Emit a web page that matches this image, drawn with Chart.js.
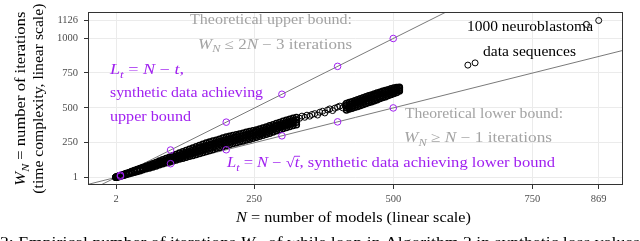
<!DOCTYPE html>
<html><head><meta charset="utf-8">
<script src="https://cdn.jsdelivr.net/npm/chart.js@4/dist/chart.umd.min.js"></script>
<style>html,body{margin:0;padding:0;background:#fff;overflow:hidden}canvas{display:block}</style>
</head><body>
<canvas id="c" width="640" height="241" style="width:640px;height:241px"></canvas>
<script>
// ---- data ----
const xTicks = [2, 250, 500, 750, 869];
const yTicks = [1, 250, 500, 750, 1000, 1126];
const synthN = [10, 100, 200, 300, 400, 500];
const synthUpperW = [17, 197, 397, 597, 797, 997];
const synthLowerW = [9, 99, 199, 299, 399, 499];
const boundN = [-60, 940];
const upperBoundW = [-123, 1877];
const lowerBoundW = [-61, 939];
// neuroblastoma: dense lower part of the band (N, four W rows per N)
const bandN  = [2,5,8,12,16,20,25,30,35,40,45,50,56,62,68,74,80,86,92,98,104,110,116,122,128,134,140,146,152,158,164,170,176,182,188,194,200,206,212,218,224,230,236,242,248,254,260,266,272,278,284,290,296,302,308,314,320,326];
const bandW1 = [1,5,8,13,17,22,27,33,38,44,49,55,62,69,76,83,91,98,105,112,119,126,132,138,145,152,158,165,172,179,186,194,201,209,216,223,230,237,244,250,256,262,269,275,282,289,296,303,311,318,327,335,343,351,358,365,373,379];
const bandW2 = [1,5,9,14,19,24,30,36,42,48,54,61,68,76,83,91,99,107,115,123,131,139,146,154,161,168,176,183,191,198,206,214,221,229,236,243,250,257,263,269,275,281,287,294,300,306,313,320,328,336,344,352,360,369,376,383,390,396];
const bandW3 = [2,6,10,15,20,26,32,39,46,53,59,66,74,83,91,99,108,117,125,134,143,152,160,169,177,185,194,202,211,219,227,234,241,249,256,263,270,276,282,288,294,300,306,312,318,324,330,337,345,353,361,369,377,386,393,400,407,413];
const bandW4 = [2,7,11,17,22,28,35,43,50,57,64,72,81,90,99,108,118,127,136,146,156,165,175,184,194,203,212,221,230,239,247,254,261,268,275,283,290,296,301,306,312,318,324,330,336,341,347,355,363,371,379,387,395,404,411,418,425,431];
// neuroblastoma: sparse middle part
const sparseN = [332,336,341,345,350,354,359,364,368,373,377,382,386,391,395,400,404,409,413];
const sparseW = [425,440,432,447,440,452,458,448,468,475,463,484,492,480,497,505,512,500,520];
// neuroblastoma: dense upper end of the band
const endN  = [416,421,426,431,436,441,446,451,456,461,466,471,476,481,486,491,496,501,506,511];
const endW1 = [485,491,497,503,510,516,523,530,537,544,551,558,566,573,580,588,595,602,610,620];
const endW2 = [500,506,512,519,526,533,540,546,553,560,567,574,581,588,595,602,609,615,622,630];
const endW3 = [515,521,528,535,542,549,556,563,569,576,583,590,597,603,610,616,622,628,634,640];
const endW4 = [530,537,544,551,558,565,572,579,586,592,599,606,612,618,624,630,636,641,646,648];
// neuroblastoma: isolated large sequences
const outlierN = [634, 647, 847, 869];
const outlierW = [806, 822, 1098, 1126];

// ---- build ----
const dense = [], loose = [];
bandN.forEach((n, i) => [bandW1, bandW2, bandW3, bandW4].forEach(r => dense.push({x: n, y: r[i]})));
endN.forEach((n, i) => [endW1, endW2, endW3, endW4].forEach(r => dense.push({x: n, y: r[i]})));
sparseN.forEach((n, i) => loose.push({x: n, y: sparseW[i]}));
outlierN.forEach((n, i) => loose.push({x: n, y: outlierW[i]}));

const PURPLE = '#a020f0', GREY = '#a3a3a3';
const FAM = "'Liberation Serif','DejaVu Serif',serif";

function fontFor(s, size) {
  const sz = s.sub ? size * 0.72 : size;
  return (s.i ? 'italic ' : '') + sz.toFixed(2) + 'px ' + FAM;
}
function richWidth(ctx, segs, size) {
  let w = 0;
  segs.forEach(s => { ctx.font = fontFor(s, size); w += ctx.measureText(s.t).width; });
  return w;
}
function drawRich(ctx, segs, x0, x1, yc, size, color) {
  const w = richWidth(ctx, segs, size);
  const sx = (x1 - x0) / w;
  ctx.save();
  ctx.translate(x0, yc + size * 0.32);
  ctx.scale(sx, 1);
  ctx.fillStyle = color; ctx.strokeStyle = color;
  ctx.textBaseline = 'alphabetic'; ctx.textAlign = 'left';
  let x = 0;
  segs.forEach(s => {
    ctx.font = fontFor(s, size);
    const dy = s.sub ? size * 0.22 : 0;
    ctx.fillText(s.t, x, dy);
    const ww = ctx.measureText(s.t).width;
    if (s.over) {
      ctx.lineWidth = size * 0.06;
      ctx.beginPath(); ctx.moveTo(x - 0.5, -size * 0.8); ctx.lineTo(x + ww + 0.5, -size * 0.8); ctx.stroke();
    }
    x += ww;
  });
  ctx.restore();
}
const WN = [{t:'W', i:true}, {t:'N', i:true, sub:true}];
const Lt = [{t:'L', i:true}, {t:'t', i:true, sub:true}];

const texts = [
  {segs:[{t:'Theoretical upper bound:'}], x0:190, x1:352, y:19.5, c:GREY},
  {segs:[...WN, {t:' ≤ 2'}, {t:'N', i:true}, {t:' − 3 iterations'}], x0:198, x1:352, y:44.5, c:GREY},
  {segs:[{t:'1000 neuroblastoma'}], x0:467, x1:593, y:26.5, c:'#000'},
  {segs:[{t:'data sequences'}], x0:483, x1:576, y:52, c:'#000'},
  {segs:[...Lt, {t:' = '}, {t:'N', i:true}, {t:' − '}, {t:'t', i:true}, {t:','}], x0:110, x1:184, y:70, c:PURPLE},
  {segs:[{t:'synthetic data achieving'}], x0:110, x1:263, y:93, c:PURPLE},
  {segs:[{t:'upper bound'}], x0:110, x1:191, y:117, c:PURPLE},
  {segs:[{t:'Theoretical lower bound:'}], x0:405, x1:563, y:113.5, c:GREY},
  {segs:[...WN, {t:' ≥ '}, {t:'N', i:true}, {t:' − 1 iterations'}], x0:404, x1:552, y:138, c:GREY},
  {segs:[...Lt, {t:' = '}, {t:'N', i:true}, {t:' − √'}, {t:'t', i:true, over:true}, {t:', synthetic data achieving lower bound'}], x0:227, x1:555, y:163, c:PURPLE},
  {segs:[{t:'N', i:true}, {t:' = number of models (linear scale)'}], x0:236, x1:471, y:217.5, c:'#000'},
  {segs:[{t:'2: Empirical number of iterations '}, ...WN, {t:' of while loop in Algorithm 2 in synthetic loss values'}], x0:0, x1:640, y:242, c:'#000', size:14.5}
];
const ytitle = [
  {segs:[...WN, {t:' = number of iterations'}], cx:21, len:174},
  {segs:[{t:'(time complexity, linear scale)'}], cx:38.5, len:190}
];

const overlay = {
  id: 'overlay',
  afterDraw(chart) {
    const ctx = chart.ctx, a = chart.chartArea;
    ctx.save();
    ctx.strokeStyle = '#333333'; ctx.lineWidth = 1;
    ctx.strokeRect(Math.round(a.left) + 0.5, Math.round(a.top) + 0.5, Math.round(a.right - a.left) - 1, Math.round(a.bottom - a.top) - 1);
    ctx.restore();
    texts.forEach(t => drawRich(ctx, t.segs, t.x0, t.x1, t.y, t.size || 14, t.c));
    const cy = (a.top + a.bottom) / 2;
    ytitle.forEach(t => {
      ctx.save();
      ctx.translate(t.cx, cy);
      ctx.rotate(-Math.PI / 2);
      drawRich(ctx, t.segs, -t.len / 2, t.len / 2, 0, 14, '#000');
      ctx.restore();
    });
  }
};

const tickFont = {family: FAM, size: 10.5};
new Chart(document.getElementById('c'), {
  type: 'scatter',
  data: {
    datasets: [
      {label: 'upper synth', data: synthN.map((n, i) => ({x: n, y: synthUpperW[i]})), order: 0,
       pointStyle: 'circle', pointRadius: 3.3, borderColor: PURPLE, backgroundColor: 'rgba(0,0,0,0)', borderWidth: 1},
      {label: 'lower synth', data: synthN.map((n, i) => ({x: n, y: synthLowerW[i]})), order: 0,
       pointStyle: 'circle', pointRadius: 3.3, borderColor: PURPLE, backgroundColor: 'rgba(0,0,0,0)', borderWidth: 1},
      {label: 'neuroblastoma dense', data: dense, order: 1,
       pointStyle: 'circle', pointRadius: 3, borderColor: '#000', backgroundColor: 'rgba(0,0,0,0)', borderWidth: 1.5},
      {label: 'neuroblastoma', data: loose, order: 1,
       pointStyle: 'circle', pointRadius: 3, borderColor: '#000', backgroundColor: 'rgba(0,0,0,0)', borderWidth: 1},
      {label: 'upper bound', data: boundN.map((n, i) => ({x: n, y: upperBoundW[i]})), order: 2,
       showLine: true, pointRadius: 0, borderColor: '#7a7a7a', borderWidth: 1},
      {label: 'lower bound', data: boundN.map((n, i) => ({x: n, y: lowerBoundW[i]})), order: 2,
       showLine: true, pointRadius: 0, borderColor: '#7a7a7a', borderWidth: 1}
    ]
  },
  options: {
    responsive: false, animation: false, devicePixelRatio: 1,
    layout: {padding: {left: 0, right: 17.3, top: 4, bottom: 0}},
    plugins: {legend: {display: false}, tooltip: {enabled: false}},
    scales: {
      x: {
        type: 'linear', min: -48.3, max: 912.1,
        afterBuildTicks: s => { s.ticks = xTicks.map(v => ({value: v})); },
        afterFit: s => { s.height = 56; },
        ticks: {font: tickFont, color: '#4d4d4d', padding: 4, maxRotation: 0, autoSkip: false, callback: v => String(v)},
        grid: {color: '#ebebeb', lineWidth: 1, tickColor: '#333333', tickLength: 4},
        border: {display: false}
      },
      y: {
        type: 'linear', min: -53.7, max: 1184.7,
        afterBuildTicks: s => { s.ticks = yTicks.map(v => ({value: v})); },
        afterFit: s => { s.width = 88; },
        ticks: {font: tickFont, color: '#4d4d4d', padding: 6, autoSkip: false, callback: v => String(v)},
        grid: {color: '#ebebeb', lineWidth: 1, tickColor: '#333333', tickLength: 4},
        border: {display: false}
      }
    }
  },
  plugins: [overlay]
});
</script>
</body></html>
